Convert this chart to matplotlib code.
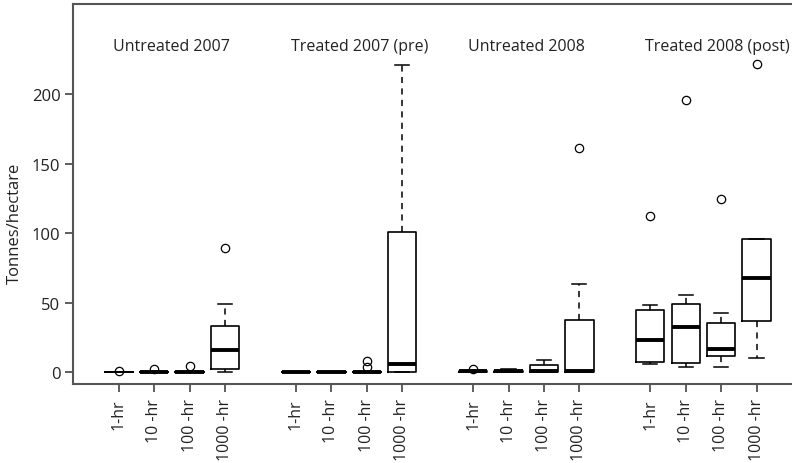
import matplotlib
matplotlib.use("Agg")
import matplotlib.pyplot as plt

plt.rcParams['font.family'] = ['Open Sans', 'DejaVu Sans']

group_titles = ["Untreated 2007", "Treated 2007 (pre)", "Untreated 2008", "Treated 2008 (post)"]
size_classes = ["1-hr", "10 -hr", "100 -hr", "1000 -hr"]

# box statistics (Tonnes/hectare), 4 size classes per group, groups in order above
q1 = [0, 0, 0, 1.9,
      0, 0, 0, 0,
      0.2, 0, 0, 0.2,
      7.4, 6.7, 11.6, 37.0]
med = [0, 0, 0, 16.1,
       0, 0, 0, 5.8,
       0.5, 0.5, 0.8, 0.6,
       22.9, 32.0, 16.4, 67.4]
q3 = [0, 0.3, 0.3, 33.4,
      0.2, 0.2, 0.3, 101.0,
      0.8, 1.0, 4.8, 37.5,
      44.8, 48.9, 35.1, 95.8]
whislo = [0, 0, 0, 0,
          0, 0, 0, 0,
          0, 0, 0, 0,
          5.5, 3.8, 3.4, 9.9]
whishi = [0, 0.3, 0.3, 48.9,
          0.3, 0.3, 0.3, 221.0,
          1.0, 2.4, 8.7, 63.3,
          48.4, 55.6, 42.4, 95.8]
fliers = [[0.6], [2.2], [4.3], [89.5],
          [], [], [3.8, 7.8], [],
          [2.0], [], [], [161.5],
          [112.6], [195.9], [124.2], [222.0]]

stats = []
for i in range(16):
    stats.append(dict(q1=q1[i], med=med[i], q3=q3[i], whislo=whislo[i],
                      whishi=whishi[i], fliers=fliers[i], label=size_classes[i % 4]))

positions = [g * 5 + k + 1 for g in range(4) for k in range(4)]

fig = plt.figure(figsize=(7.92, 4.64), dpi=100)
ax = fig.add_axes([73 / 792, 1 - 385 / 464, 1 - 73 / 792, (385 - 5) / 464])

parts = ax.bxp(stats, positions=positions, widths=0.8, showfliers=True,
               boxprops=dict(color='black', linewidth=1.2),
               medianprops=dict(color='black', linewidth=2.8, solid_capstyle='butt'),
               whiskerprops=dict(color='black', linewidth=1.1, linestyle=(0, (4, 3.5))),
               capprops=dict(color='black', linewidth=1.1),
               flierprops=dict(marker='o', markerfacecolor='none', markeredgecolor='black',
                               markersize=6, markeredgewidth=0.9))
# first box in reference is drawn as a thin line
parts['medians'][0].set_linewidth(1.1)

ax.set_xlim(-0.29, 20.0)
ax.set_ylim(-8.7, 265)

ax.set_yticks([0, 50, 100, 150, 200])
ax.set_yticklabels(["0", "50", "100", "150", "200"])
ax.set_xticks(positions)
ax.set_xticklabels([size_classes[i % 4] for i in range(16)], rotation=90)

text_color = '#222222'
ax.tick_params(axis='both', direction='out', length=6, width=1.1, color='#333333',
               labelsize=11.5, labelcolor=text_color, pad=4)
ax.tick_params(axis='y', labelsize=12, pad=3)

ax.spines['right'].set_visible(False)
for side in ['left', 'bottom', 'top']:
    ax.spines[side].set_color('#555555')
    ax.spines[side].set_linewidth(1.5)

fig.text(15 / 792, 1 - 223 / 464, "Tonnes/hectare", rotation=90, ha='center', va='center',
         fontsize=12, color=text_color)

for g, title in enumerate(group_titles):
    ax.text(g * 5 + 0.85, 235, title, ha='left', va='center', fontsize=11.5, color=text_color)

fig.savefig("out.png", dpi=100)
